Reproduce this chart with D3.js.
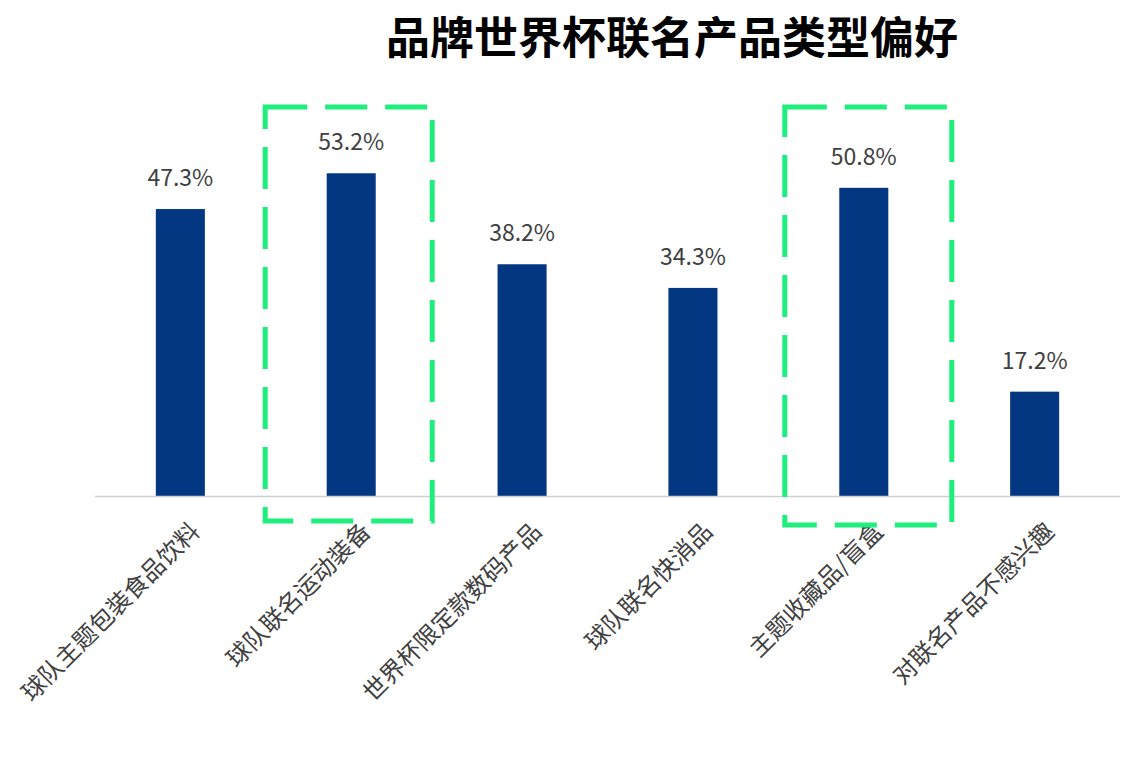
<!DOCTYPE html>
<html>
<head>
<meta charset="utf-8">
<script src="https://cdn.jsdelivr.net/npm/d3@7"></script>
<style>
  body { margin: 0; background: #fff; }
  svg text { font-family: "Noto Sans CJK SC", "Noto Sans", sans-serif; }
</style>
</head>
<body>
<div id="chart"></div>
<script>
// Data
const title = '品牌世界杯联名产品类型偏好';
const categories = ['球队主题包装食品饮料', '球队联名运动装备', '世界杯限定款数码产品', '球队联名快消品', '主题收藏品/盲盒', '对联名产品不感兴趣'];
const values = [47.3, 53.2, 38.2, 34.3, 50.8, 17.2];
const highlighted = ['球队联名运动装备', '主题收藏品/盲盒'];

const width = 1135;
const height = 775;
const margin = { left: 95, right: 15, top: 132, bottom: 279 };

const svg = d3.select('#chart')
    .append('svg')
    .attr('width', width)
    .attr('height', height);

// Scales
const x = d3.scaleBand()
    .domain(categories)
    .range([margin.left, width - margin.right])
    .paddingInner(0.713)
    .paddingOuter(0.356);

const y = d3.scaleLinear()
    .domain([0, 60])
    .range([height - margin.bottom, margin.top]);

// Title
svg.append('text')
    .attr('x', 672)
    .attr('y', 54)
    .attr('text-anchor', 'middle')
    .style('font-size', '44px')
    .style('font-weight', 'bold')
    .style('fill', '#000')
    .text(title);

// Bars
svg.selectAll('.bar')
    .data(categories)
    .enter()
    .append('rect')
    .attr('class', 'bar')
    .attr('x', d => x(d))
    .attr('y', (d, i) => y(values[i]))
    .attr('width', x.bandwidth())
    .attr('height', (d, i) => y(0) - y(values[i]))
    .attr('fill', '#033782');

// Value labels
svg.selectAll('.value-label')
    .data(categories)
    .enter()
    .append('text')
    .attr('class', 'value-label')
    .attr('x', d => x(d) + x.bandwidth() / 2)
    .attr('y', (d, i) => y(values[i]) - 23)
    .attr('text-anchor', 'middle')
    .style('font-size', '23px')
    .style('fill', '#404040')
    .text((d, i) => values[i].toFixed(1) + '%');

// Baseline
svg.append('line')
    .attr('x1', margin.left)
    .attr('x2', width - margin.right)
    .attr('y1', y(0) + 0.5)
    .attr('y2', y(0) + 0.5)
    .attr('stroke', '#d0d0d0')
    .attr('stroke-width', 1.5);

// Category labels, rotated
svg.selectAll('.cat-label')
    .data(categories)
    .enter()
    .append('text')
    .attr('class', 'cat-label')
    .attr('text-anchor', 'end')
    .attr('transform', d => `translate(${x(d) + x.bandwidth() / 2 + 21},${y(0) + 37}) rotate(-45)`)
    .style('font-size', '24px')
    .style('fill', '#404040')
    .text(d => d);

// Dashed highlight boxes (left/right offsets from the bar centre)
const boxOffsets = [[-86, 81, 521], [-79, 88, 525]];
highlighted.forEach((cat, i) => {
    const cx = x(cat) + x.bandwidth() / 2;
    const [l, r, bottom] = boxOffsets[i];
    svg.append('rect')
        .attr('x', cx + l)
        .attr('y', 107)
        .attr('width', r - l)
        .attr('height', bottom - 107)
        .attr('fill', 'none')
        .attr('stroke', '#1eee7c')
        .attr('stroke-width', 5)
        .attr('stroke-dasharray', '42,18');
});
</script>
</body>
</html>
